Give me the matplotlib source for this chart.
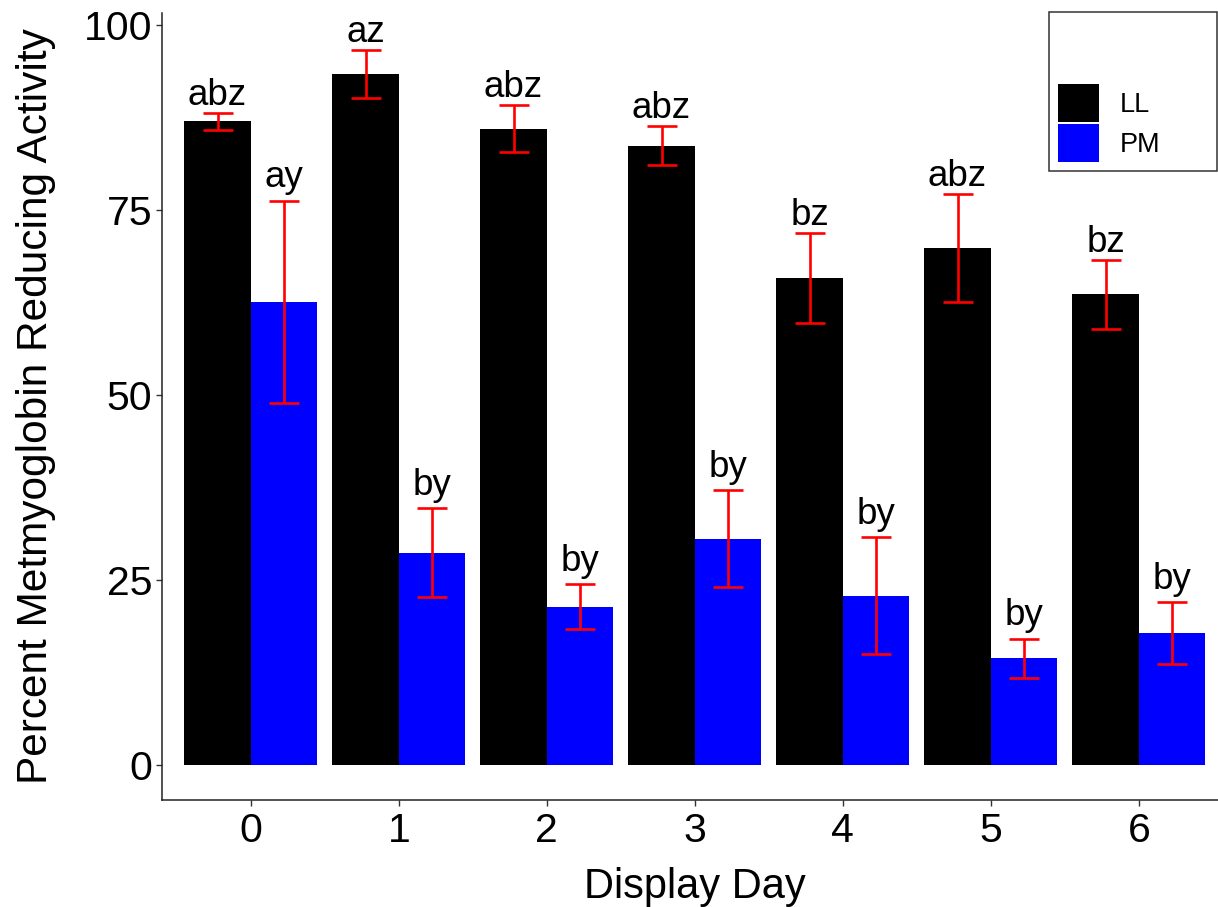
import matplotlib
matplotlib.use("Agg")
import matplotlib.pyplot as plt
import numpy as np
from matplotlib.patches import Patch

plt.rcParams['font.family'] = ['Liberation Sans', 'DejaVu Sans']

days = ['0', '1', '2', '3', '4', '5', '6']
ll_mean = [87.0, 93.4, 86.0, 83.7, 65.8, 69.9, 63.6]
ll_se = [1.15, 3.25, 3.15, 2.6, 6.1, 7.3, 4.7]
pm_mean = [62.6, 28.7, 21.4, 30.6, 22.9, 14.4, 17.8]
pm_se = [13.65, 6.0, 3.05, 6.55, 7.9, 2.65, 4.2]
ll_letters = ['abz', 'az', 'abz', 'abz', 'bz', 'abz', 'bz']
pm_letters = ['ay', 'by', 'by', 'by', 'by', 'by', 'by']
series_names = ['LL', 'PM']
series_colors = ['#000000', '#0000FF']

W, H = 1218, 907
fig = plt.figure(figsize=(W / 100, H / 100), dpi=100)
ax_left, ax_top, ax_bottom = 162, 13, 800
ax_w = 7.2 * 148
ax = fig.add_axes([ax_left / W, 1 - ax_bottom / H, ax_w / W, (ax_bottom - ax_top) / H])

x = np.arange(len(days))
bw = 0.45
groups = [(ll_mean, ll_se, ll_letters), (pm_mean, pm_se, pm_letters)]
offsets = [-bw / 2, bw / 2]
for (mean, se, letters), off, col, name in zip(groups, offsets, series_colors, series_names):
    xs = x + off
    ax.bar(xs, mean, width=bw, color=col, edgecolor='none', label=name, zorder=2)
    ax.errorbar(xs, mean, yerr=se, fmt='none', ecolor='#FF0000', elinewidth=1.9,
                capsize=10.5, capthick=1.9, zorder=3)
    for xi, m, s, lab in zip(xs, mean, se, letters):
        desc = any(c in 'gjpqy' for c in lab)
        ax.annotate(lab, (xi, m + s), xytext=(0, 9.6 if desc else 5.8),
                    textcoords='offset points', ha='center', va='baseline',
                    fontsize=26.5, color='black', zorder=4)

ax.set_xlim(-0.6, 6.6)
ax.set_ylim(-(ax_bottom - 765) / 7.4, (765 - ax_top) / 7.4)
ax.set_xticks(x)
ax.set_xticklabels(days)
ax.set_yticks([0, 25, 50, 75, 100])
ax.set_yticklabels(['0', '25', '50', '75', '100'])
for s in ['top', 'right']:
    ax.spines[s].set_visible(False)
for s in ['left', 'bottom']:
    ax.spines[s].set_linewidth(1.1)
    ax.spines[s].set_color('#222222')
ax.tick_params(axis='both', length=4, width=1.0, color='#333333', labelsize=29.5,
               labelcolor='black')
ax.tick_params(axis='x', pad=5)
ax.tick_params(axis='y', pad=3)

ax.set_xlabel('Display Day', fontsize=30, labelpad=12)
ax.set_ylabel('Percent Metmyoglobin Reducing Activity', fontsize=30.5, labelpad=20)

handles = [Patch(facecolor=c, edgecolor='none') for c in series_colors]
leg = fig.legend(handles, series_names, loc='upper left',
                 bbox_to_anchor=(1049 / W, 1 - 172 / H, 168 / W, 160 / H), mode='expand',
                 title=' ', title_fontsize=47,
                 fontsize=19.5, frameon=True, fancybox=False, edgecolor='black',
                 handlelength=1.48, handleheight=1.75, handletextpad=0.8,
                 labelspacing=0.1, borderpad=0.35, borderaxespad=0)
leg.get_frame().set_linewidth(1.1)

fig.savefig('out.png', dpi=100)
